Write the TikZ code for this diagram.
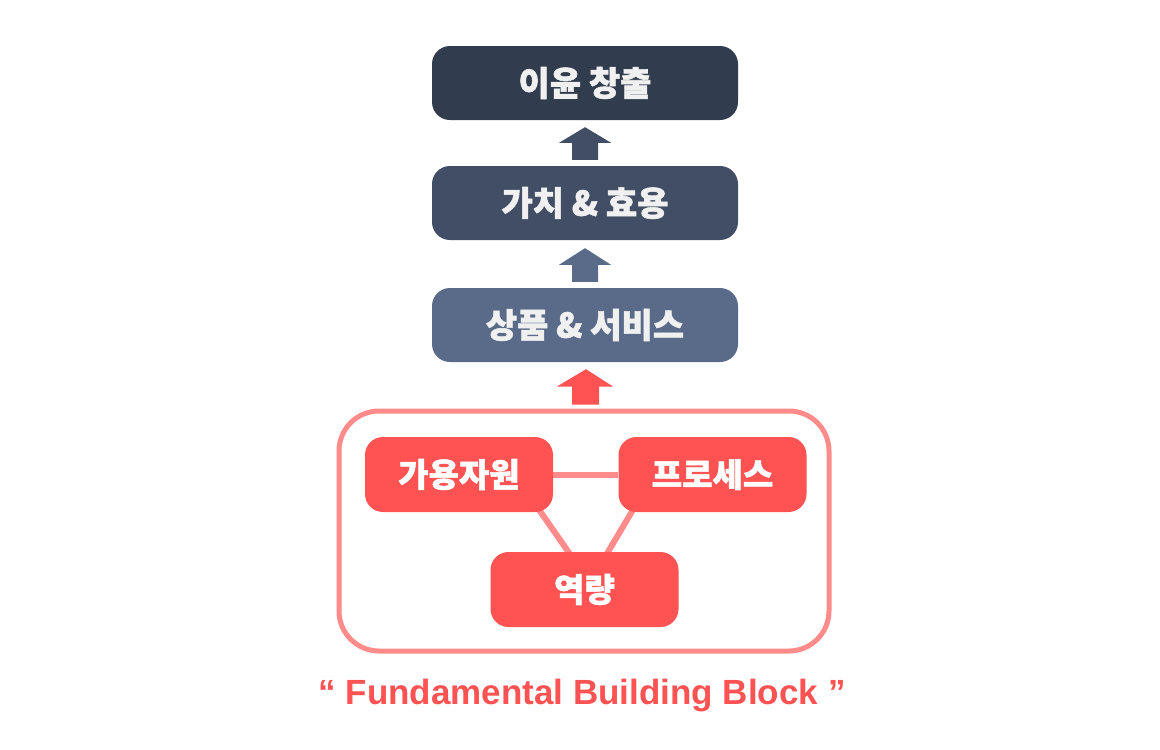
\documentclass[tikz,border=0pt]{standalone}
\usepackage{fontspec}
\setmainfont{Liberation Sans}
\newfontfamily\krfont{Noto Sans CJK KR}[BoldFeatures={FakeBold=1.6}]
\usetikzlibrary{backgrounds,calc}
\definecolor{navyA}{HTML}{323C4F}
\definecolor{navyB}{HTML}{414E66}
\definecolor{navyC}{HTML}{5A6B8A}
\definecolor{redbox}{HTML}{FF5353}
\definecolor{redline}{HTML}{FF8B8B}
\definecolor{txtlight}{HTML}{F0F0F0}
\tikzset{
  topbox/.style={rounded corners=18pt, minimum width=306pt, minimum height=74pt, inner sep=0pt,
     text=txtlight, font=\krfont\bfseries\fontsize{34}{38}\selectfont},
  redblock/.style={rounded corners=18pt, fill=redbox, minimum width=188pt, minimum height=75pt, inner sep=0pt,
     text=white, font=\krfont\bfseries\fontsize{33}{38}\selectfont},
  link/.style={draw=redline, line width=6pt},
}
\begin{document}
\begin{tikzpicture}[x=1pt,y=-1pt]
\begin{scope}[on background layer]
\fill[white] (0,0) rectangle (1160,750);
\end{scope}
\useasboundingbox (0,0) rectangle (1160,750);
% top stack
\node[topbox, fill=navyA] (profit) at (585,83) {이윤 창출};
\node[topbox, fill=navyB] (value) at (585,203) {가치 \& 효용};
\node[topbox, fill=navyC] (goods) at (585,325) {상품 \& 서비스};
% block arrows
\fill[navyB] ($(value.north)+(-13,-6)$) -- ++(0,-17) -- ++(-13,0) -- ($(profit.south)+(0,7)$) -- ($(value.north)+(26,-23)$) -- ++(-13,0) -- ++(0,17) -- cycle;
\fill[navyC] ($(goods.north)+(-13,-6)$) -- ++(0,-17) -- ++(-13,0) -- ($(value.south)+(0,8)$) -- ($(goods.north)+(26,-23)$) -- ++(-13,0) -- ++(0,17) -- cycle;
% outer box
\node[draw=redline, line width=5pt, rounded corners=40pt, minimum width=490pt, minimum height=240pt] (outer) at (584,531) {};
\fill[redbox] ($(outer.north)+(-12,-4)$) -- ++(0,-18) -- ++(-15,0) -- ($(goods.south)+(1,7)$) -- ($(outer.north)+(29,-22)$) -- ++(-14,0) -- ++(0,18) -- cycle;
% inner blocks
\node[redblock] (resource) at (459,474.5) {가용자원};
\node[redblock] (process) at (712.5,474.5) {프로세스};
\node[redblock] (capability) at (584.5,589.5) {역량};
\begin{scope}[on background layer]
\draw[link] (resource.east) -- (process.west);
\draw[link] ($(resource.south east)+(-18,-8)$) -- ($(capability.north)+(-12,6)$);
\draw[link] ($(process.south west)+(18,-8)$) -- ($(capability.north)+(20,6)$);
\end{scope}
\node[text=redbox, font=\bfseries\fontsize{35}{40}\selectfont] (caption) at (582,696) {“ Fundamental Building Block ”};
\end{tikzpicture}
\end{document}
